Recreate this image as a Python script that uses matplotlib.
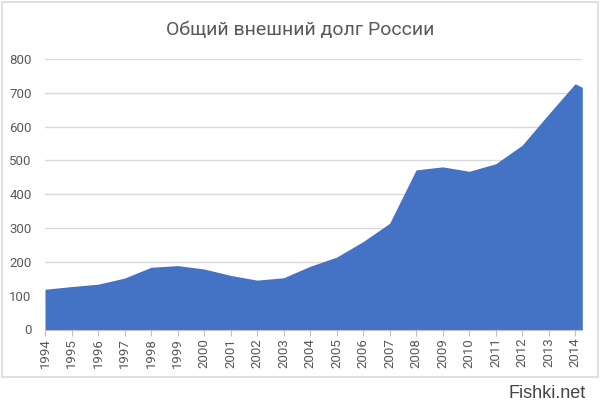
import matplotlib
matplotlib.use("Agg")
import matplotlib.pyplot as plt
from matplotlib.patches import Rectangle

title = "Общий внешний долг России"
years = [1994, 1995, 1996, 1997, 1998, 1999, 2000, 2001, 2002, 2003, 2004,
         2005, 2006, 2007, 2008, 2009, 2010, 2011, 2012, 2013, 2014, 2014.27]
debt = [119, 127, 134, 152, 184, 189, 179, 160, 146, 153, 187,
        214, 260, 314, 472, 481, 468, 490, 545, 637, 727, 716]
tick_years = list(range(1994, 2015))
y_ticks = [0, 100, 200, 300, 400, 500, 600, 700, 800]

plt.rcParams['font.family'] = ['Roboto', 'DejaVu Sans']

fig = plt.figure(figsize=(6, 4.08), dpi=100)
fig.patch.set_facecolor("white")
# chart frame
fig.patches.append(Rectangle((2/600, 1 - 377/408), 596/600, 375/408,
                             transform=fig.transFigure, fill=False,
                             edgecolor="#D9D9D9", linewidth=1.2))

ax = fig.add_axes([45/600, 1 - 329.5/408, 537.3/600, 270.5/408])
ax.fill_between(years, debt, 0, color="#4472C4", linewidth=0)
ax.set_xlim(1994, years[-1])
ax.set_ylim(0, 800)
ax.set_yticks(y_ticks)
ax.set_xticks(tick_years)
ax.set_xticklabels([str(y) for y in tick_years], rotation=90)
ax.grid(axis="y", color="#D9D9D9", linewidth=1)
ax.set_axisbelow(True)
for s in ["top", "right", "left"]:
    ax.spines[s].set_visible(False)
ax.spines["bottom"].set_color("#BFBFBF")
ax.tick_params(axis="y", length=0, pad=9.5, labelsize=9.5, labelcolor="#595959")
ax.tick_params(axis="x", length=4, color="#BFBFBF", pad=2, labelsize=9.5,
               labelcolor="#595959")

fig.text(0.5, 1 - 35/408, title, ha="center", va="baseline", fontsize=14,
         color="#595959")
fig.text(586/600, 1 - 393/408, "Fishki.net", ha="right", va="center",
         fontsize=13, color="#444444", family=["Liberation Sans", "DejaVu Sans"])

fig.savefig("out.png", dpi=100, facecolor="white")
